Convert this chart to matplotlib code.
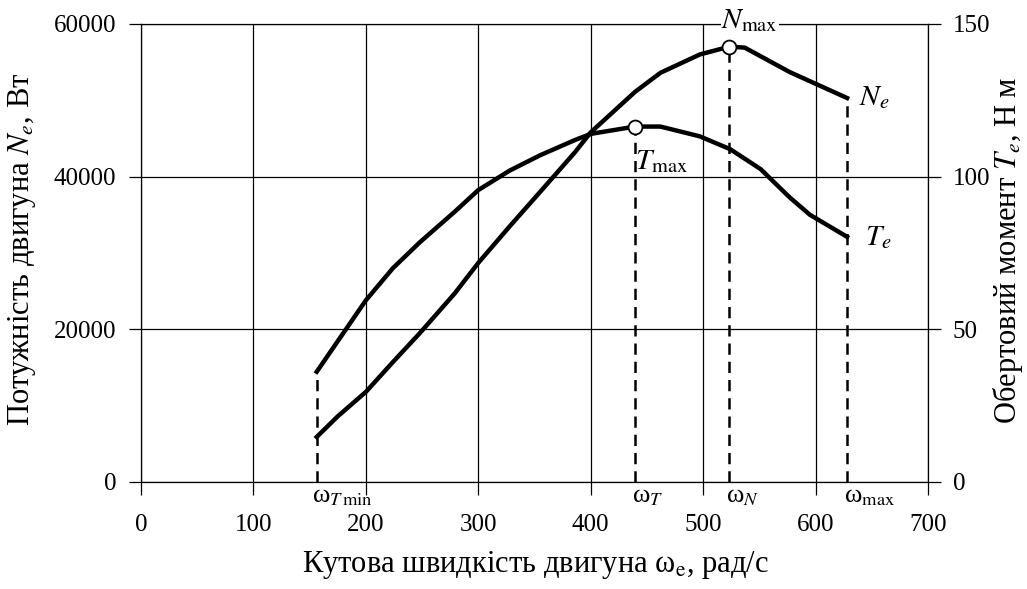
import matplotlib
matplotlib.use("Agg")
import matplotlib.pyplot as plt

plt.rcParams["font.family"] = ["Liberation Serif", "DejaVu Serif"]
plt.rcParams["mathtext.fontset"] = "stix"

# ---------- data ----------
omega_T = [156.3, 200, 224, 248, 279, 300, 328, 355, 386, 400, 439.4, 462, 497, 524, 551, 577, 595, 628]
torque = [36.1, 59.5, 70.0, 78.5, 88.5, 95.6, 102, 107, 112, 114, 116.4, 116.4, 113.2, 109.0, 102.5, 93.2, 87.5, 80.3]

omega_N = [156.3, 175, 200, 224, 248, 279, 300, 328, 355, 386, 400, 439.4, 462, 497, 523.3, 537, 577, 628]
power = [5900, 8600, 11800, 15700, 19500, 24700, 28700, 33500, 38000, 43200, 45800, 51100, 53600, 56000, 57030, 56900, 53700, 50300]

w_tmin, w_t, w_n, w_max = 156.3, 439.4, 523.3, 628
t_max, n_max = 116.4, 57030

x_ticks = [0, 100, 200, 300, 400, 500, 600, 700]
y_left_ticks = [0, 20000, 40000, 60000]
y_right_ticks = [0, 50, 100, 150]

fig = plt.figure(figsize=(10.27, 5.89), dpi=100)
ax = fig.add_axes([0.1373, 0.1817, 0.9036 - 0.1373, 0.9593 - 0.1817])
ax2 = ax.twinx()

ax.set_xlim(0, 700)
ax.set_ylim(0, 60000)
ax2.set_ylim(0, 150)

for s in ax.spines.values():
    s.set_color("black")
    s.set_linewidth(0.9)
for s in ax2.spines.values():
    s.set_visible(False)

ax.set_xticks(x_ticks)
ax.set_yticks(y_left_ticks)
ax2.set_yticks(y_right_ticks)
ax.grid(True, color="black", lw=0.9)
ax.set_axisbelow(True)
ax.tick_params(axis="x", direction="out", length=9, width=0.9, pad=14, labelsize=18)
ax.tick_params(axis="y", direction="out", length=9, width=0.9, pad=9, labelsize=18)
ax2.tick_params(axis="y", direction="out", length=9, width=0.9, pad=9, labelsize=18)

# curves
ax.plot(omega_N, power, color="black", lw=3.2, solid_joinstyle="round", zorder=3)
ax2.plot(omega_T, torque, color="black", lw=3.2, solid_joinstyle="round", zorder=3)

# dashed verticals
dash = dict(color="black", lw=1.8, dashes=(4.5, 2.8), zorder=2)
ax2.plot([w_tmin, w_tmin], [0, torque[0]], **dash)
ax2.plot([w_t, w_t], [0, t_max], **dash)
ax.plot([w_n, w_n], [0, n_max], **dash)
ax.plot([w_max, w_max], [0, power[-1]], **dash)

# max markers
ax2.plot([w_t], [t_max], "o", ms=10, mfc="white", mec="black", mew=1.3, zorder=5)
ax.plot([w_n], [n_max], "o", ms=10, mfc="white", mec="black", mew=1.3, zorder=5)

# annotations
fs = 21
ax.text(w_n + 18, 60500, r"$N_{\mathrm{max}}$", fontsize=fs, ha="center", va="center",
        bbox=dict(facecolor="white", edgecolor="none", pad=0.5), zorder=6)
ax.text(w_max + 11, 50300, r"$N_e$", fontsize=fs, ha="left", va="center")
ax2.text(w_t, 105, r"$T_{\mathrm{max}}$", fontsize=fs, ha="left", va="center")
ax2.text(w_max + 16, 80, r"$T_e$", fontsize=fs, ha="left", va="center")

xt = ax.get_xaxis_transform()
sub_y = -0.008
ax.text(w_tmin - 4, sub_y, r"ω$_{T\,\mathrm{min}}$", transform=xt, fontsize=19, ha="left", va="top")
ax.text(w_t - 3, sub_y, r"ω$_T$", transform=xt, fontsize=19, ha="left", va="top")
ax.text(w_n - 3, sub_y, r"ω$_N$", transform=xt, fontsize=19, ha="left", va="top")
ax.text(w_max - 3, sub_y, r"ω$_{\mathrm{max}}$", transform=xt, fontsize=19, ha="left", va="top")

# axis titles
fig.text(0.521, 0.041, r"Кутова швидкість двигуна ω$_\mathrm{e}$, рад/с", fontsize=22,
         ha="center", va="center")
fig.text(0.0214, 0.576, r"Потужність двигуна $N_e$, Вт", fontsize=22, rotation=90,
         ha="center", va="center")
fig.text(0.9815, 0.576, r"Обертовий момент $T_e$, Н м", fontsize=22, rotation=90,
         ha="center", va="center")

fig.savefig("out.png", dpi=100)
